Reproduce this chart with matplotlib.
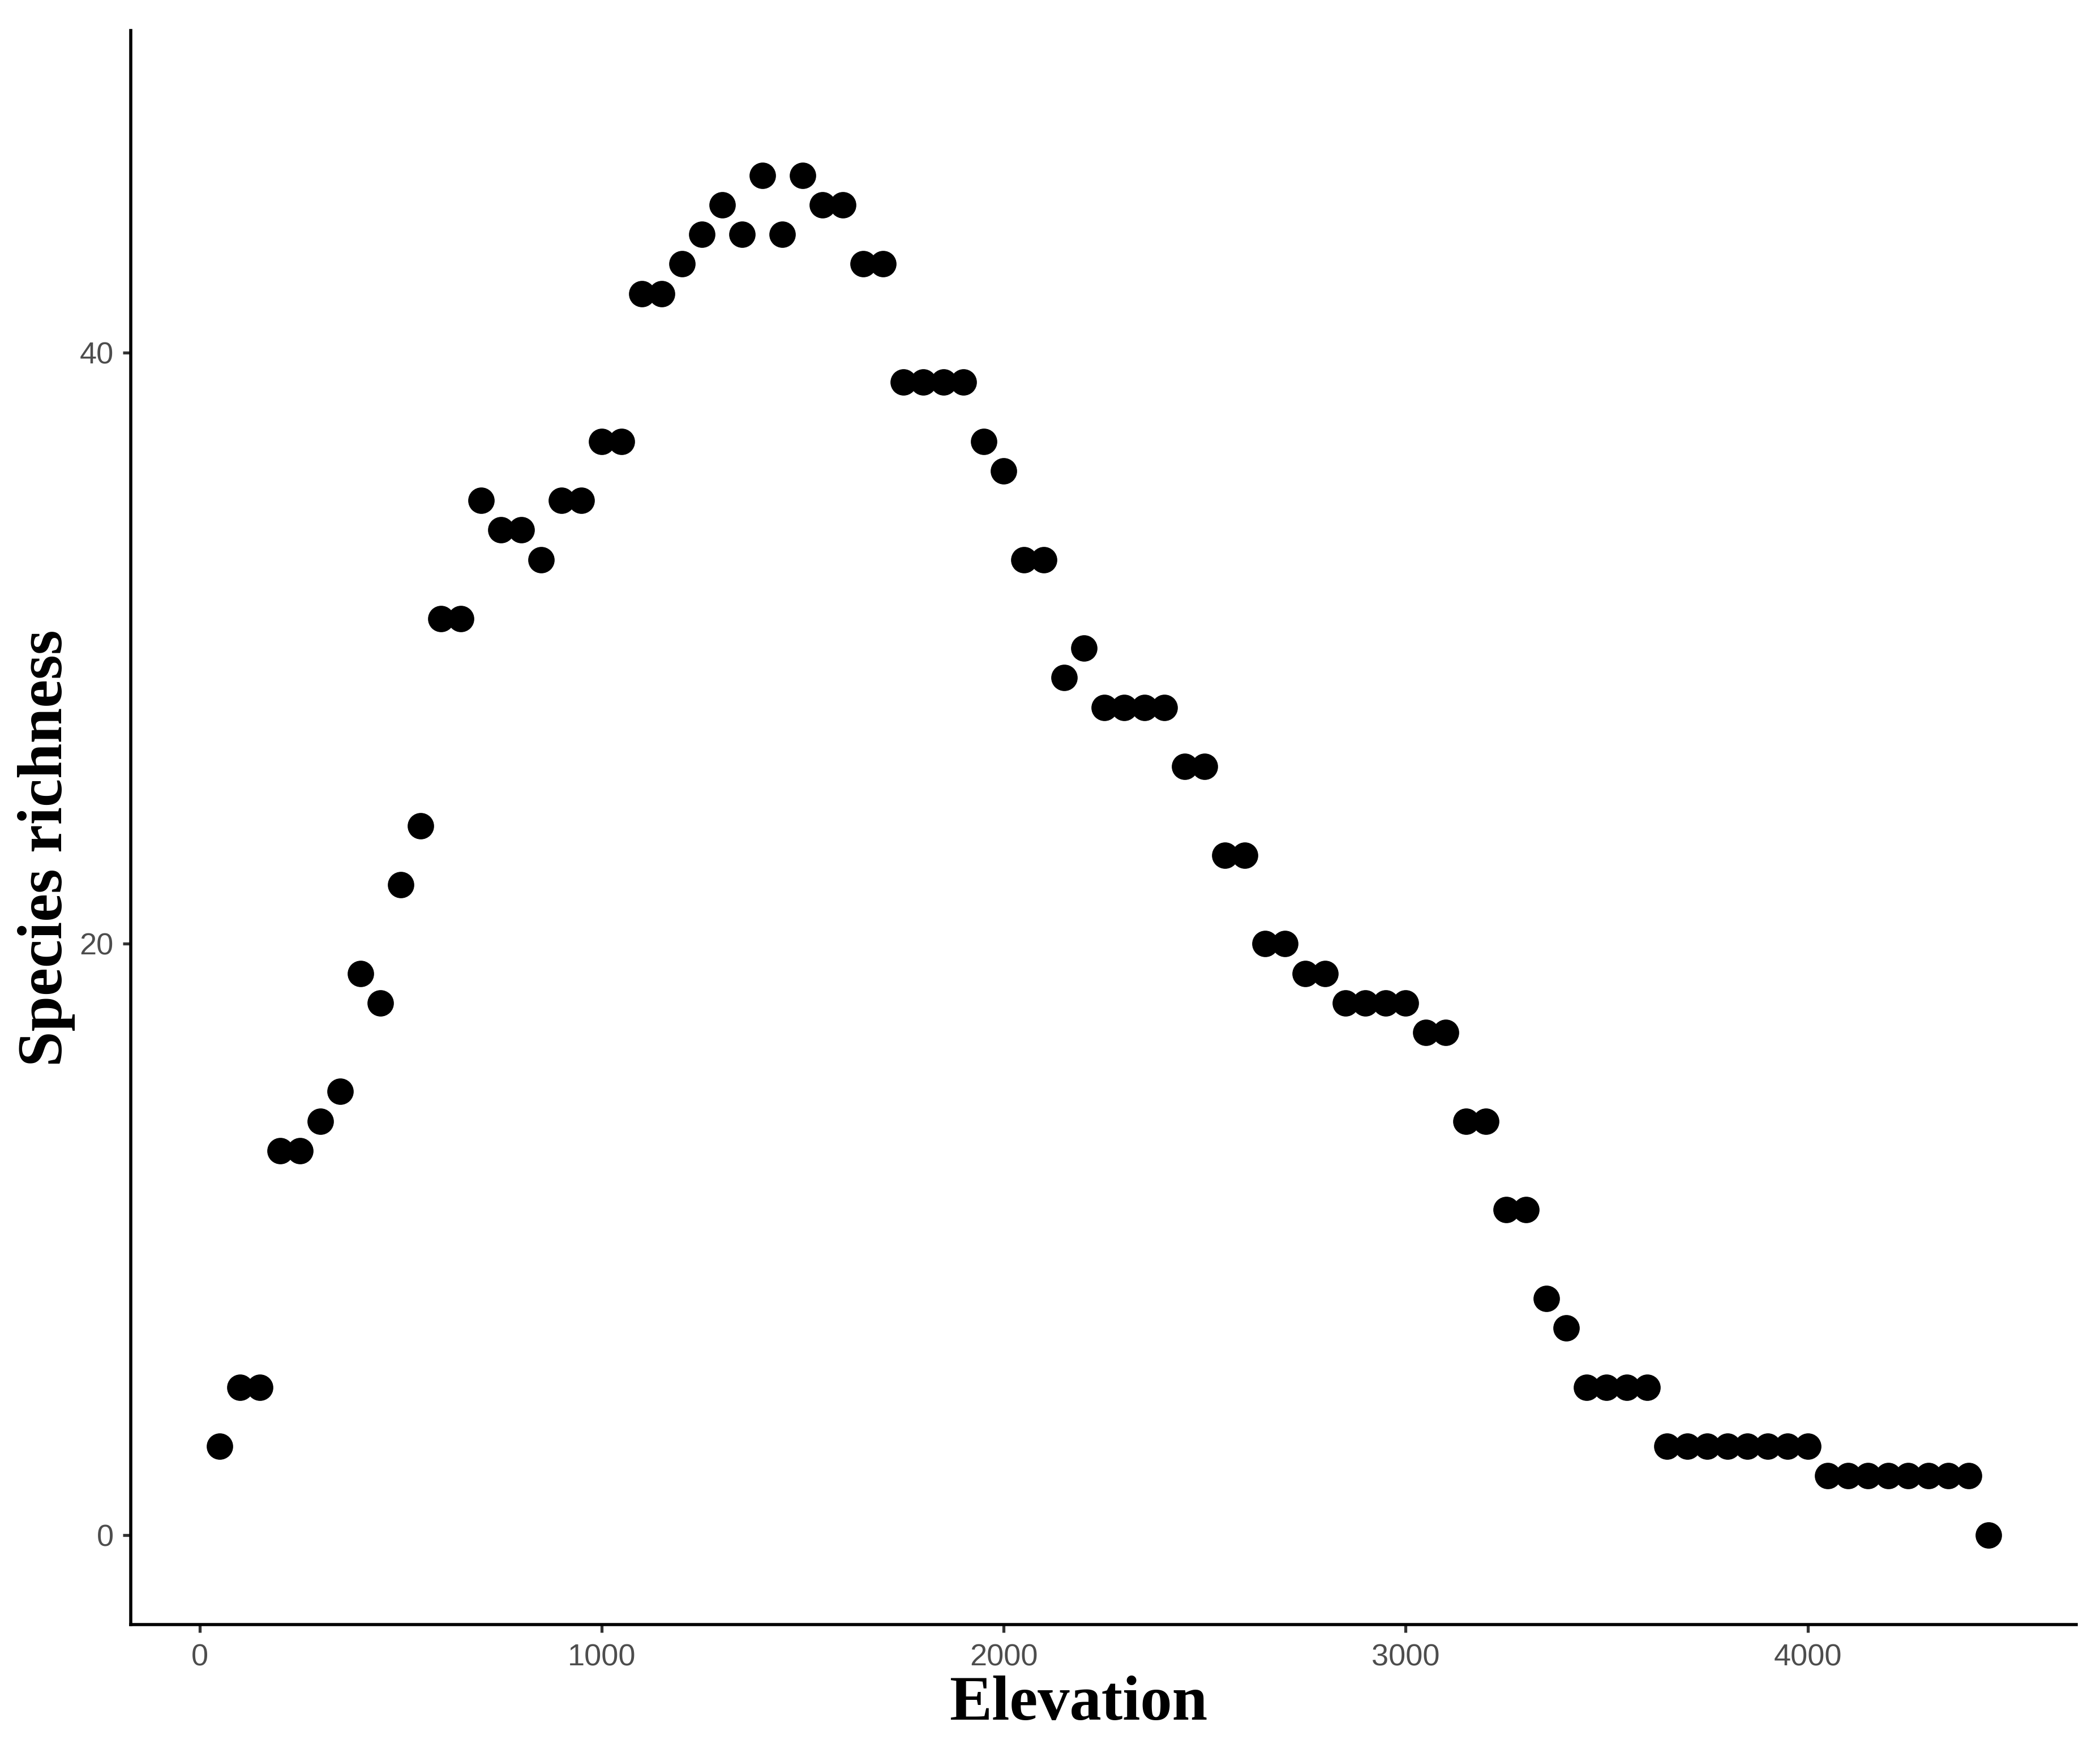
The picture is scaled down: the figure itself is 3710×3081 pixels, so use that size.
import matplotlib
matplotlib.use("Agg")
import matplotlib.pyplot as plt
import numpy as np

elevation = list(range(50, 4451, 50))
richness = [3, 5, 5, 13, 13, 14, 15, 19, 18, 22,
            24, 31, 31, 35, 34, 34, 33, 35, 35, 37,
            37, 42, 42, 43, 44, 45, 44, 46, 44, 46,
            45, 45, 43, 43, 39, 39, 39, 39, 37, 36,
            33, 33, 29, 30, 28, 28, 28, 28, 26, 26,
            23, 23, 20, 20, 19, 19, 18, 18, 18, 18,
            17, 17, 14, 14, 11, 11, 8, 7, 5, 5,
            5, 5, 3, 3, 3, 3, 3, 3, 3, 3,
            2, 2, 2, 2, 2, 2, 2, 2, 0]
x_ticks = [0, 1000, 2000, 3000, 4000]
y_ticks = [0, 20, 40]

fig = plt.figure(figsize=(37.1, 30.81), dpi=100)
ax = fig.add_axes([0.0623, 0.0685, 0.9264, 0.914])

ax.scatter(elevation, richness, s=1130, color="black", linewidths=0, zorder=3)

ax.set_xlim(-171, 4668)
ax.set_ylim(-3.03, 50.9)
ax.set_xticks(x_ticks)
ax.set_yticks(y_ticks)

for side in ["top", "right"]:
    ax.spines[side].set_visible(False)
for side in ["left", "bottom"]:
    ax.spines[side].set_linewidth(4.0)
    ax.spines[side].set_color("black")
    ax.spines[side].set_capstyle("projecting")

ax.tick_params(axis="both", length=10, width=3.8, color="#333333",
               labelcolor="#4D4D4D", labelsize=39)
ax.tick_params(axis="x", pad=14)
ax.tick_params(axis="y", pad=12)
for lab in ax.get_xticklabels() + ax.get_yticklabels():
    lab.set_family("Liberation Sans")

ax.set_xlabel("Elevation", family="Liberation Serif", fontweight="bold",
              fontsize=81, color="black")
ax.set_ylabel("Species richness", family="Liberation Serif", fontweight="bold",
              fontsize=81, color="black")
ax.xaxis.set_label_coords(0.487, -0.032)
ax.yaxis.set_label_coords(-0.0285, 0.487)

fig.savefig("out.png", dpi=100, facecolor="white")
